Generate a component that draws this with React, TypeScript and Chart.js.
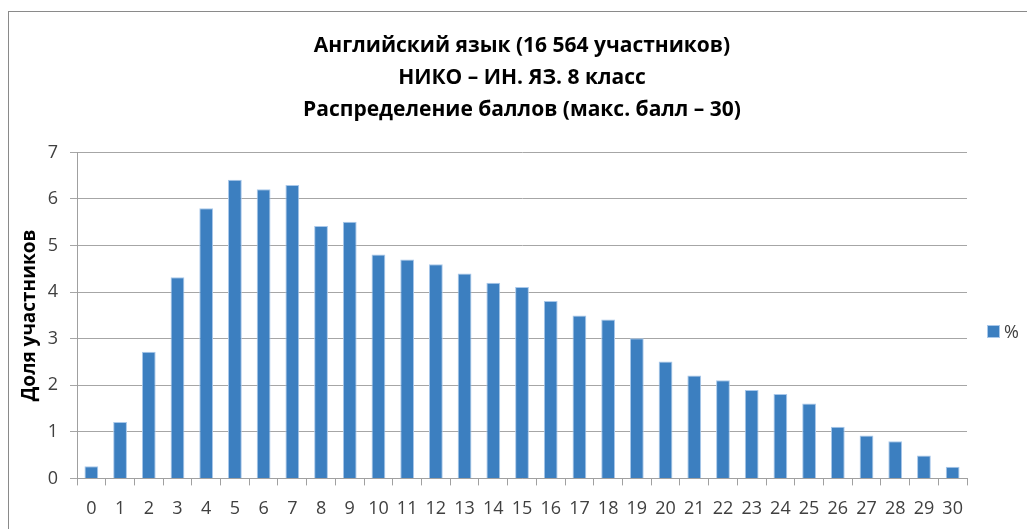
import React, { useEffect, useRef } from "react";
import { Chart, registerables } from "chart.js";

Chart.register(...registerables);

const scores = ["0","1","2","3","4","5","6","7","8","9","10","11","12","13","14","15","16","17","18","19","20","21","22","23","24","25","26","27","28","29","30"];
const percent = [0.26,1.21,2.72,4.32,5.8,6.41,6.21,6.3,5.42,5.51,4.81,4.7,4.6,4.4,4.2,4.11,3.81,3.5,3.41,3.01,2.51,2.21,2.11,1.9,1.81,1.61,1.11,0.92,0.8,0.49,0.25];
const seriesName = "%";
const titleLines = ["Английский язык (16 564 участников)", "НИКО – ИН. ЯЗ. 8 класс", "Распределение баллов (макс. балл – 30)"];
const yTitle = "Доля участников";
const yTicks = [0, 1, 2, 3, 4, 5, 6, 7];

const BAR_COLOR = "#3c7fc0";
const BAR_BORDER = "#a9c8ea";
const FONT = '"Open Sans", "Liberation Sans", sans-serif';

export default function App() {
  const ref = useRef<HTMLCanvasElement | null>(null);
  useEffect(() => {
    if (!ref.current) return;
    const chart = new Chart(ref.current, {
      type: "bar",
      data: {
        labels: scores,
        datasets: [
          {
            label: seriesName,
            data: percent,
            backgroundColor: BAR_COLOR,
            borderColor: BAR_BORDER,
            borderWidth: 1,
            categoryPercentage: 1,
            barPercentage: 0.48,
          },
        ],
      },
      options: {
        animation: false,
        responsive: false,
        maintainAspectRatio: false,
        layout: { padding: { left: 0, right: 60, top: 0, bottom: -4 } },
        plugins: {
          tooltip: { enabled: false },
          legend: { display: false },
          title: {
            display: true,
            fullSize: false,
            text: titleLines,
            color: "#000",
            font: { family: FONT, size: 21, weight: "bold", lineHeight: 1.53 },
            padding: { top: 30, bottom: 26 },
          },
        },
        scales: {
          x: {
            grid: {
              display: true,
              drawOnChartArea: false,
              offset: true,
              tickLength: 7,
              color: "#a0a0a0",
            },
            border: { color: "#a0a0a0" },
            ticks: {
              color: "#404040",
              font: { family: FONT, size: 18 },
              padding: 13,
              maxRotation: 0,
              autoSkip: false,
            },
          },
          y: {
            min: 0,
            max: 7,
            afterFit: (s: any) => {
              s.width = 77;
            },
            afterBuildTicks: (s: any) => {
              s.ticks = yTicks.map((v) => ({ value: v }));
            },
            grid: { color: "#a6a6a6", tickLength: 7 },
            border: { color: "#a0a0a0" },
            ticks: {
              stepSize: 1,
              color: "#404040",
              font: { family: FONT, size: 18 },
              padding: 12,
            },
            title: {
              display: true,
              text: yTitle,
              color: "#000",
              font: { family: FONT, size: 19, weight: "bold" },
              padding: { top: 18, bottom: 0 },
            },
          },
        },
      },
    });
    return () => chart.destroy();
  }, []);
  return (
    <div style={{ position: "absolute", left: 0, top: 0, width: 1027, height: 529, overflow: "hidden", background: "#fff" }}>
      <div
        style={{
          position: "absolute",
          left: 8,
          top: 11,
          width: 1200,
          height: 800,
          borderLeft: "1px solid #8a8a8a",
          borderTop: "1px solid #8a8a8a",
        }}
      />
      <canvas ref={ref} width={1027} height={529} style={{ position: "absolute", left: 0, top: 0 }} />
      <div
        style={{
          position: "absolute",
          left: 987,
          top: 318,
          height: 26,
          display: "flex",
          alignItems: "center",
          fontFamily: FONT,
          fontSize: 18,
          color: "#404040",
        }}
      >
        <span
          style={{
            display: "inline-block",
            width: 11,
            height: 11,
            background: BAR_COLOR,
            border: `1px solid ${BAR_BORDER}`,
            marginRight: 4,
          }}
        />
        <span>{seriesName}</span>
      </div>
    </div>
  );
}
